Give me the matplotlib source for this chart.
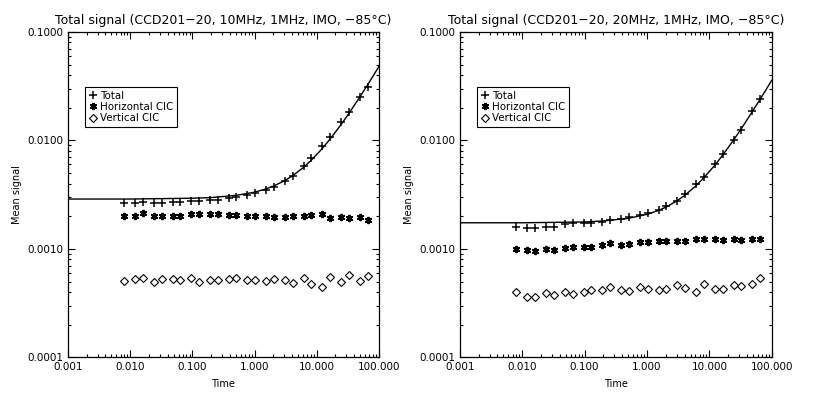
import matplotlib
matplotlib.use("Agg")
from matplotlib import pyplot as plt
from matplotlib.ticker import FixedLocator, FixedFormatter, LogLocator, NullFormatter

# exposure times (same for both runs)
time = [0.008, 0.012, 0.016, 0.024, 0.032, 0.048, 0.064, 0.096, 0.128,
        0.192, 0.256, 0.384, 0.512, 0.768, 1.024, 1.536, 2.048, 3.072,
        4.096, 6.144, 8.192, 12.288, 16.384, 24.576, 32.768, 49.152, 65.536]

# 10 MHz run
total_10 = [0.00265, 0.00265, 0.00272, 0.00265, 0.00265, 0.00269, 0.00269,
            0.00275, 0.00276, 0.00282, 0.00284, 0.00292, 0.00298, 0.00315,
            0.00324, 0.00349, 0.00372, 0.00421, 0.00467, 0.00583, 0.00693,
            0.00889, 0.01073, 0.01468, 0.0183, 0.0252, 0.0312]
hcic_10 = [0.00202, 0.00202, 0.00214, 0.00202, 0.00202, 0.00202, 0.00202,
           0.00211, 0.00211, 0.00211, 0.00211, 0.00205, 0.00205, 0.00203,
           0.00199, 0.00201, 0.00196, 0.00196, 0.00199, 0.00202, 0.00205,
           0.00208, 0.00194, 0.00196, 0.00191, 0.00196, 0.00185]
vcic_10 = [0.000502, 0.000531, 0.000543, 0.000492, 0.000531, 0.000527,
           0.000516, 0.000543, 0.000495, 0.000516, 0.000516, 0.000527,
           0.000535, 0.000516, 0.000516, 0.000502, 0.000524, 0.000516,
           0.000488, 0.00054, 0.000474, 0.000448, 0.00055, 0.000495,
           0.00057, 0.000502, 0.000563]

# 20 MHz run
total_20 = [0.0016, 0.001545, 0.001545, 0.0016, 0.0016, 0.00168, 0.00172,
            0.00174, 0.00175, 0.00178, 0.00186, 0.0019, 0.00195, 0.00206,
            0.00214, 0.00226, 0.0025, 0.00278, 0.0032, 0.00393, 0.00462,
            0.00604, 0.00743, 0.0100, 0.01257, 0.01866, 0.0238]
hcic_20 = [0.001006, 0.000985, 0.000965, 0.001006, 0.000985, 0.00102,
           0.00105, 0.00104, 0.00105, 0.00109, 0.00113, 0.00109, 0.0011,
           0.00116, 0.00116, 0.00119, 0.00119, 0.00117, 0.00119, 0.00124,
           0.00124, 0.00124, 0.00121, 0.00123, 0.0012, 0.00123, 0.00123]
vcic_20 = [0.0004, 0.00036, 0.00036, 0.000389, 0.000378, 0.000397, 0.000383,
           0.0004, 0.00042, 0.00042, 0.000441, 0.00042, 0.00041, 0.000441,
           0.000428, 0.000415, 0.000428, 0.000467, 0.000435, 0.0004,
           0.000477, 0.000428, 0.000428, 0.000461, 0.000452, 0.000477,
           0.000538]

# fitted total signal curves
fit_time = [0.001, 0.01, 0.1, 0.2, 0.5, 1, 1.5, 2, 3, 4, 6, 8, 12, 16, 24,
            32, 48, 64, 80, 100]
fit_10 = [0.00288, 0.00288, 0.00293, 0.00297, 0.00311, 0.00333, 0.00356,
          0.00378, 0.00423, 0.00468, 0.00558, 0.00648, 0.00828, 0.0101,
          0.0137, 0.0173, 0.0245, 0.0317, 0.0389, 0.0479]
fit_20 = [0.00174, 0.00174, 0.00177, 0.00181, 0.00191, 0.00208, 0.00225,
          0.00242, 0.00276, 0.0031, 0.00378, 0.00446, 0.00582, 0.00718,
          0.0099, 0.0126, 0.0181, 0.0235, 0.0289, 0.0357]

titles = ["Total signal (CCD201\u221220, 10MHz, 1MHz, IMO, \u221285\u00b0C)",
          "Total signal (CCD201\u221220, 20MHz, 1MHz, IMO, \u221285\u00b0C)"]
y_ticks = [1e-4, 1e-3, 1e-2, 1e-1]
y_labels = ["0.0001", "0.0010", "0.0100", "0.1000"]
x_ticks = [1e-3, 1e-2, 1e-1, 1, 10, 100]
x_labels = ["0.001", "0.010", "0.100", "1.000", "10.000", "100.000"]

plt.rcParams["font.family"] = "DejaVu Sans"

fig = plt.figure(figsize=(8.14, 3.98), dpi=100)
ax_l = fig.add_axes([0.0835, 0.102, 0.382, 0.818])
ax_r = fig.add_axes([0.565, 0.102, 0.383, 0.818])

panels = [
    (ax_l, total_10, hcic_10, vcic_10, fit_10, titles[0]),
    (ax_r, total_20, hcic_20, vcic_20, fit_20, titles[1]),
]

for ax, tot, hc, vc, fit, title in panels:
    ax.plot(fit_time, fit, "k-", linewidth=1.0)
    ax.plot(time, tot, "k+", markersize=5.2, markeredgewidth=1.1,
            linestyle="none", label="Total")
    ax.plot(time, hc, marker=(6, 2, 0), color="k", markersize=5.2,
            markeredgewidth=1.4, linestyle="none", label="Horizontal CIC")
    ax.plot(time, vc, "D", markerfacecolor="none", markeredgecolor="k",
            markersize=4.3, markeredgewidth=0.8, linestyle="none",
            label="Vertical CIC")

    ax.set_xscale("log")
    ax.set_yscale("log")
    ax.set_xlim(1e-3, 100)
    ax.set_ylim(1e-4, 1e-1)

    ax.xaxis.set_major_locator(FixedLocator(x_ticks))
    ax.xaxis.set_major_formatter(FixedFormatter(x_labels))
    ax.xaxis.set_minor_locator(LogLocator(base=10, subs=range(2, 10)))
    ax.xaxis.set_minor_formatter(NullFormatter())
    ax.yaxis.set_major_locator(FixedLocator(y_ticks))
    ax.yaxis.set_major_formatter(FixedFormatter(y_labels))
    ax.yaxis.set_minor_locator(LogLocator(base=10, subs=range(2, 10)))
    ax.yaxis.set_minor_formatter(NullFormatter())

    ax.tick_params(which="both", direction="in", top=True, right=True,
                   width=0.8, labelsize=7.5, pad=3)
    ax.tick_params(which="major", length=5)
    ax.tick_params(which="minor", length=2.5)
    for s in ax.spines.values():
        s.set_linewidth(0.9)

    ax.set_title(title, fontsize=9, pad=6)
    ax.set_xlabel("Time", fontsize=7, labelpad=5)
    ax.set_ylabel("Mean signal", fontsize=7, labelpad=4)

    leg = ax.legend(loc="upper left", bbox_to_anchor=(0.055, 0.83),
                    fontsize=7.4, frameon=True, fancybox=False,
                    edgecolor="k", framealpha=1, handlelength=0.8,
                    handletextpad=0.3, labelspacing=0.12, borderpad=0.35,
                    borderaxespad=0)
    leg.get_frame().set_linewidth(0.8)

fig.savefig("out.png", dpi=100)
